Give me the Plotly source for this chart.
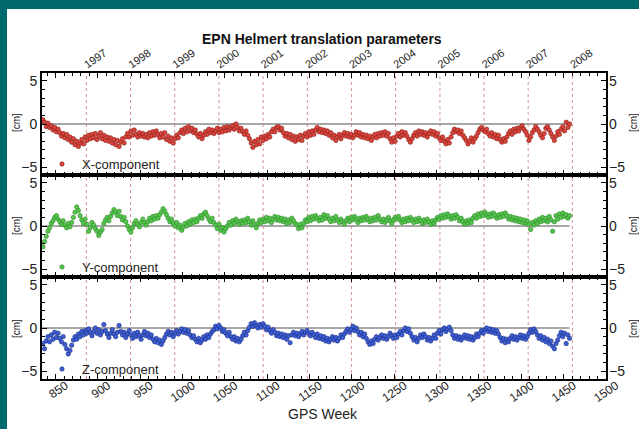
import plotly.graph_objects as go

# ---------------- data ----------------
weeks = list(range(835, 1458, 2))

x_comp = [
    0.5, 0.2, -0.3, 0.1, -0.4, -0.2, -0.7, -0.4, -0.9, -0.6,
    -1.0, -1.4, -1.1, -1.6, -1.2, -1.8, -1.5, -2.1, -1.7, -2.4,
    -2.0, -2.6, -2.2, -1.8, -2.3, -1.5, -1.9, -1.3, -1.7, -1.2,
    -1.6, -1.1, -1.8, -1.4, -1.0, -1.7, -1.3, -1.9, -1.5, -2.0,
    -1.6, -2.2, -1.8, -2.4, -1.9, -2.6, -2.1, -1.7, -2.2, -1.5,
    -1.1, -1.5, -0.8, -1.3, -0.7, -1.2, -1.5, -1.0, -1.4, -1.1,
    -1.5, -1.2, -1.6, -1.0, -1.4, -0.9, -1.3, -0.8, -1.2, -1.6,
    -1.1, -1.5, -1.0, -1.8, -1.4, -2.0, -1.6, -2.2, -1.7, -1.3,
    -1.6, -1.0, -0.7, -1.1, -0.5, -0.9, -0.3, -0.8, -0.5, -1.0,
    -0.7, -1.2, -1.5, -1.1, -1.7, -1.3, -0.9, -1.2, -0.6, -1.0,
    -0.7, -1.1, -0.8, -0.5, -1.0, -0.6, -0.9, -0.4, -0.8, -0.3,
    -0.7, -0.4, -0.2, -0.6, 0.0, -0.4, -0.8, -0.5, -0.9, -1.2,
    -0.8, -1.3, -1.7, -2.2, -2.7, -2.0, -2.4, -1.8, -2.3, -1.5,
    -1.9, -1.4, -1.7, -1.2, -1.5, -0.9, -0.6, -0.9, -0.4, -0.3,
    -0.7, -0.5, -1.0, -1.4, -1.1, -1.6, -1.2, -1.8, -1.4, -2.0,
    -1.5, -1.8, -1.3, -1.9, -1.4, -1.1, -1.5, -0.9, -1.3, -0.8,
    -1.2, -0.7, -0.4, -0.9, -0.6, -1.0, -0.7, -1.1, -0.8, -1.3,
    -1.0, -1.6, -1.3, -1.9, -1.5, -1.2, -1.7, -1.3, -1.0, -1.4,
    -1.1, -1.5, -1.2, -1.6, -1.3, -0.9, -1.3, -1.0, -1.5, -1.2,
    -1.6, -1.3, -1.7, -1.4, -1.9, -1.5, -1.2, -1.6, -1.1, -1.4,
    -1.0, -1.3, -0.9, -1.4, -1.1, -1.7, -2.1, -1.6, -2.0, -1.4,
    -1.1, -1.5, -0.9, -1.3, -1.0, -1.4, -1.8, -2.1, -1.7, -1.3,
    -1.0, -1.4, -0.8, -1.2, -0.9, -1.3, -1.0, -1.5, -1.1, -0.8,
    -1.2, -0.9, -1.4, -1.1, -1.6, -1.9, -1.5, -2.0, -2.3, -1.8,
    -2.2, -1.5, -1.0, -0.6, -0.9, -0.7, -1.1, -0.8, -1.3, -1.6,
    -1.9, -2.3, -2.0, -1.6, -2.1, -1.7, -1.4, -1.0, -0.6, -0.4,
    -0.7, -0.9, -0.6, -1.1, -1.4, -1.0, -1.5, -1.2, -1.7, -1.3,
    -1.8, -2.1, -1.7, -2.0, -1.5, -1.1, -0.8, -1.2, -0.6, -0.9,
    -0.5, -0.8, -0.4, -0.2, -0.6, -0.9, -1.3, -1.9, -1.5, -1.0,
    -0.7, -0.3, -0.6, -0.9, -1.3, -1.6, -1.1, -0.5, -0.3, -0.7,
    -1.1, -1.5, -1.9, -1.4, -0.9, -1.2, -0.6, -0.3, -0.8, 0.2,
    -0.4, 0.0,
]

y_comp = [
    -2.4, -1.8, -1.2, -0.6, -0.2, 0.3, 0.6, 1.0, 1.2, 0.8,
    0.5, 0.2, 0.6, 0.1, -0.2, 0.3, -0.1, 0.4, 1.0, 1.6,
    2.2, 1.8, 1.2, 0.7, 0.3, 0.8, 0.2, -0.6, -0.2, 0.4,
    0.1, -0.3, -0.6, -1.1, -0.7, -0.4, 0.3, 0.7, 1.0, 0.6,
    1.1, 1.5, 1.9, 1.6, 1.2, 1.7, 1.1, 0.7, 1.0, 0.5,
    0.0, -0.4, -0.7, -0.2, 0.3, 0.6, 0.2, -0.1, 0.4, 0.8,
    0.4, 0.1, 0.5, 0.9, 0.6, 1.1, 0.8, 1.2, 0.9, 1.3,
    1.6, 2.0, 1.7, 1.3, 0.9, 0.5, 0.8, 0.3, 0.0, 0.4,
    -0.2, 0.1, -0.5, -0.1, 0.3, 0.0, 0.5, 0.2, 0.7, 0.4,
    0.8, 0.5, 0.9, 1.2, 0.9, 1.4, 1.6, 1.2, 0.8, 0.5,
    0.9, 0.4, 0.1, -0.3, 0.2, -0.5, -0.2, -0.7, -0.3, 0.0,
    0.4, 0.1, 0.6, 0.3, 0.8, 0.5, 0.2, 0.6, 0.3, 0.7,
    0.4, 0.9, 0.5, 0.1, 0.6, 0.2, -0.2, 0.3, 0.7, 0.4,
    0.8, 0.5, 1.0, 0.6, 0.9, 0.4, 0.8, 1.1, 0.7, 1.0,
    0.6, 0.9, 0.5, 0.8, 0.3, 0.7, 0.4, 0.9, 0.6, 0.3,
    0.1, -0.3, 0.2, -0.2, 0.3, 0.7, 0.5, 1.0, 0.6, 1.1,
    0.8, 1.2, 0.9, 0.6, 1.0, 0.7, 1.3, 0.9, 1.2, 0.8,
    0.5, 0.9, 0.6, 1.1, 0.7, 0.4, 0.8, 0.5, 0.2, 0.6,
    0.9, 0.5, 1.0, 0.7, 1.1, 0.8, 0.4, 0.9, 0.6, 1.0,
    0.7, 1.1, 0.8, 0.5, 0.9, 0.6, 1.0, 0.7, 1.2, 0.8,
    0.5, 0.8, 0.4, 0.7, 1.0, 0.6, 0.3, 0.7, 1.0, 0.8,
    1.1, 0.7, 0.4, 0.8, 0.5, 0.9, 0.6, 1.0, 0.7, 0.4,
    0.8, 0.5, 0.9, 0.6, 0.3, 0.7, 0.4, 0.8, 0.5, 0.2,
    0.6, 0.3, 0.7, 1.0, 0.8, 1.2, 0.9, 1.3, 1.0, 1.4,
    1.1, 0.8, 1.2, 0.9, 1.3, 1.0, 0.6, 0.9, 0.5, 0.2,
    0.6, 0.3, 0.7, 0.4, 0.9, 1.2, 0.9, 1.4, 1.1, 1.5,
    1.2, 1.6, 1.3, 1.0, 1.4, 1.1, 1.5, 1.2, 0.9, 1.3,
    1.0, 1.4, 1.1, 1.5, 1.2, 0.8, 1.1, 0.7, 1.0, 0.6,
    0.9, 0.5, 0.8, 0.4, 0.7, 0.3, 0.6, 0.2, -0.4, 0.4,
    0.1, 0.6, 0.3, 0.8, 0.5, 1.0, 0.6, 0.9, 0.5, 1.1,
    0.7, -0.6, 0.5, 1.2, 0.8, 1.4, 1.0, 1.5, 1.1, 1.3,
    0.9, 1.2,
]

z_comp = [
    -1.8, -2.4, -1.5, -1.0, -1.6, -0.8, -1.3, -0.5, -1.1, -0.6,
    -1.2, -1.6, -1.0, -1.9, -2.4, -3.0, -2.6, -2.0, -1.4, -1.0,
    -1.3, -0.7, -1.0, -0.4, -0.8, -0.3, -0.6, -0.1, -0.5, -0.9,
    -0.4, 0.0, -0.6, -0.2, -0.8, -0.4, 0.4, -0.3, -0.7, -1.1,
    -0.6, -0.2, -0.7, -1.0, -0.5, 0.3, -0.4, -0.8, -0.5, -1.1,
    -0.7, -0.3, -0.8, -1.2, -0.6, -1.0, -0.5, -0.9, -1.3, -0.8,
    -0.4, -0.9, -0.6, -1.1, -0.8, -1.3, -1.6, -1.2, -1.7, -1.4,
    -1.9, -1.5, -1.1, -0.7, -0.4, -0.8, -0.5, -1.0, -0.6, -0.3,
    -0.7, -0.4, -0.1, -0.5, -0.2, -0.6, -0.3, -0.8, -1.1, -0.9,
    -1.3, -1.6, -1.2, -1.7, -1.4, -1.0, -1.3, -0.8, -1.1, -0.7,
    -0.4, -0.2, 0.2, -0.1, 0.3, 0.0, -0.4, -0.2, -0.6, -0.9,
    -0.5, -1.0, -1.3, -1.0, -1.5, -1.2, -1.6, -1.3, -0.9, -0.5,
    -0.8, -0.3, 0.1, 0.5, 0.2, 0.6, 0.3, 0.0, 0.4, 0.1,
    0.5, 0.2, -0.2, 0.1, -0.3, -0.6, -0.2, -0.5, -0.9, -0.6,
    -1.0, -0.7, -1.1, -0.8, -1.3, -0.9, -1.7, -0.8, -0.5, -0.9,
    -0.6, -1.0, -0.7, -0.4, -0.8, -0.5, -0.3, -0.6, -0.9, -0.5,
    -0.8, -1.1, -0.7, -1.2, -0.9, -1.3, -1.0, -1.5, -1.2, -1.6,
    -1.3, -1.0, -1.4, -1.1, -1.5, -1.2, -0.8, -1.1, -0.7, -0.4,
    -0.1, -0.5, -0.2, 0.2, -0.3, 0.0, -0.4, -0.8, -0.5, -1.0,
    -0.7, -1.2, -1.6, -1.9, -1.5, -1.8, -1.3, -1.0, -1.4, -1.1,
    -0.8, -1.2, -0.9, -1.3, -1.0, -0.6, -0.9, -1.2, -0.8, -1.1,
    -0.7, -0.4, -0.8, -0.3, 0.0, -0.4, -0.1, -0.6, -1.0, -1.4,
    -1.1, -1.6, -1.2, -0.8, -1.1, -0.7, -1.0, -1.4, -1.1, -1.5,
    -1.2, -0.8, -1.2, -0.6, -0.3, -0.7, -0.2, 0.0, -0.4, -0.1,
    0.1, -0.3, -0.8, -1.2, -0.9, -1.3, -1.0, -1.4, -1.1, -0.8,
    -1.2, -0.9, -1.3, -1.0, -1.4, -1.1, -0.7, -1.0, -0.6, -0.3,
    -0.6, -0.2, 0.0, -0.4, -0.1, -0.5, -0.2, -0.6, -0.3, -0.7,
    -1.1, -1.5, -1.2, -1.7, -1.3, -1.6, -1.2, -0.9, -1.3, -1.0,
    -1.4, -1.1, -0.8, -1.2, -0.9, -1.3, -1.0, -0.6, -0.2, -0.5,
    -0.1, -0.4, -0.8, -1.2, -0.9, -1.4, -1.1, -1.6, -1.3, -1.8,
    -1.5, -2.1, -2.4, -1.8, -1.4, -0.9, -0.5, -1.0, -0.6, -1.8,
    -0.8, -1.2,
]

years = ["1997", "1998", "1999", "2000", "2001", "2002", "2003",
         "2004", "2005", "2006", "2007", "2008"]
year_weeks = [886.4, 938.6, 990.7, 1042.9, 1095.1, 1147.3, 1199.4,
              1251.6, 1303.9, 1356.0, 1408.1, 1460.3]

assert len(x_comp) == len(weeks) == len(y_comp) == len(z_comp)

# ---------------- style ----------------
FONT = "Liberation Sans, Arial, Helvetica, sans-serif"
XR = [834, 1500]
YR = [-5.9, 5.9]
TEAL = "#006a6e"

W, H = 639, 429
L, R, T, B = 42, 33, 73, 50
PW, PH = W - L - R, H - T - B


def px_x(px):
    return (px - L) / PW


def px_y(py):
    return (H - B - py) / PH


fig = go.Figure()

series = [
    ("X-component", x_comp, "#d9443c", "#8a1e18", "x3", "y3", "legend"),
    ("Y-component", y_comp, "#55c44c", "#2f8a2b", "x2", "y2", "legend2"),
    ("Z-component", z_comp, "#3d5fd2", "#1b2c86", "x", "y", "legend3"),
]
for name, vals, col, lcol, xa, ya, lg in series:
    fig.add_trace(go.Scatter(
        x=weeks, y=vals, mode="markers", name=name,
        marker=dict(size=4.4, color=col, line=dict(width=0.6, color=lcol)),
        xaxis=xa, yaxis=ya, legend=lg, showlegend=True,
        hoverinfo="skip"))

xbase = dict(range=XR, showline=True, linecolor="black", linewidth=2,
             mirror="ticks", ticks="inside", ticklen=5, tickwidth=1,
             tickcolor="black", tickmode="linear", tick0=850, dtick=50,
             minor=dict(ticks="inside", dtick=10, ticklen=3,
                        tickcolor="black", tickwidth=1),
             showgrid=False, zeroline=False, fixedrange=True,
             automargin=False)
ybase = dict(range=YR, showline=True, linecolor="black", linewidth=2,
             mirror="ticks", ticks="inside", ticklen=5, tickwidth=1,
             tickcolor="black", tickmode="linear", tick0=-5, dtick=5,
             minor=dict(ticks="inside", dtick=1, ticklen=3,
                        tickcolor="black", tickwidth=1),
             showgrid=False, zeroline=False, fixedrange=True,
             automargin=False,
             tickfont=dict(size=14, color="#222"))
yright = dict(range=YR, showline=False, ticks="", tickmode="linear",
              tick0=-5, dtick=5, showgrid=False, zeroline=False,
              side="right", fixedrange=True, automargin=False,
              ticklabelstandoff=2,
              tickfont=dict(size=14, color="#222"))

d1, d2 = 1 / 3, 2 / 3
fig.update_layout(
    xaxis=dict(xbase, anchor="y", tickangle=-35,
               tickfont=dict(size=12, color="#222"),
               ticklabelstandoff=-7, ticklabelshift=10),
    xaxis2=dict(xbase, anchor="y2", matches="x", showticklabels=False),
    xaxis3=dict(xbase, anchor="y3", matches="x", showticklabels=False),
    xaxis4=dict(range=XR, overlaying="x3", anchor="y3", side="top",
                tickmode="array", tickvals=year_weeks, ticktext=years,
                ticks="", showline=False, showgrid=False, zeroline=False,
                tickangle=-35, tickfont=dict(size=11, color="#222"),
                fixedrange=True, automargin=False,
                ticklabelstandoff=0, ticklabelshift=-2),
    yaxis=dict(ybase, domain=[0, d1], anchor="x"),
    yaxis2=dict(ybase, domain=[d1, d2], anchor="x2"),
    yaxis3=dict(ybase, domain=[d2, 1], anchor="x3"),
    yaxis4=dict(yright, overlaying="y", anchor="x"),
    yaxis5=dict(yright, overlaying="y2", anchor="x2"),
    yaxis6=dict(yright, overlaying="y3", anchor="x3"),
)

# invisible traces so that the overlay axes are drawn
fig.add_trace(go.Scatter(x=year_weeks, y=[None] * len(year_weeks),
                         xaxis="x4", yaxis="y3", showlegend=False,
                         hoverinfo="skip"))
for ya, xa in (("y4", "x"), ("y5", "x2"), ("y6", "x3")):
    fig.add_trace(go.Scatter(x=[None], y=[None], xaxis=xa, yaxis=ya,
                             showlegend=False, hoverinfo="skip"))

legbase = dict(xanchor="left", yanchor="middle", x=px_x(42),
               bgcolor="rgba(0,0,0,0)", borderwidth=0,
               font=dict(size=13, color="#222", family=FONT))
fig.update_layout(
    legend=dict(legbase, y=px_y(164)),
    legend2=dict(legbase, y=px_y(267)),
    legend3=dict(legbase, y=px_y(369)),
)

shapes = [dict(type="rect", xref="paper", yref="paper",
               x0=px_x(7), x1=px_x(645), y0=px_y(435), y1=px_y(9),
               fillcolor="white", line=dict(width=0), layer="below")]
for yw in year_weeks:
    shapes.append(dict(type="line", xref="x", yref="paper", x0=yw, x1=yw,
                       y0=0, y1=1, layer="below",
                       line=dict(color="rgba(200,110,110,0.75)", width=1,
                                 dash="dot")))
for xa, ya in (("x", "y"), ("x2", "y2"), ("x3", "y3")):
    shapes.append(dict(type="line", xref=xa, yref=ya, x0=XR[0],
                       x1=weeks[-1], y0=0, y1=0, layer="below",
                       line=dict(color="#8a8a8a", width=1.5)))

annotations = [
    dict(text="<b>EPN Helmert translation parameters</b>", xref="paper",
         yref="paper", x=px_x(322), y=px_y(39), xanchor="center",
         yanchor="middle", showarrow=False,
         font=dict(size=14, color="#111")),
    dict(text="GPS Week", xref="paper", yref="paper", x=px_x(323),
         y=px_y(414), xanchor="center", yanchor="middle", showarrow=False,
         font=dict(size=14, color="#222")),
]
for cy in (123, 226, 329):
    annotations.append(dict(text="[cm]", xref="paper", yref="paper",
                            x=px_x(16), y=px_y(cy), textangle=-90,
                            xanchor="center", yanchor="middle",
                            showarrow=False,
                            font=dict(size=10, color="#222")))
    annotations.append(dict(text="[cm]", xref="paper", yref="paper",
                            x=px_x(633), y=px_y(cy), textangle=-90,
                            xanchor="center", yanchor="middle",
                            showarrow=False,
                            font=dict(size=10, color="#222")))

fig.update_layout(
    width=W, height=H,
    margin=dict(l=L, r=R, t=T, b=B, pad=0, autoexpand=False),
    paper_bgcolor=TEAL, plot_bgcolor="rgba(0,0,0,0)",
    font=dict(family=FONT, color="#222"),
    shapes=shapes, annotations=annotations,
    hovermode=False,
)

fig.write_html(
    "out.html", config={"displayModeBar": False},
    post_script="document.body.style.margin='0px';"
                "document.body.style.overflow='hidden';")
